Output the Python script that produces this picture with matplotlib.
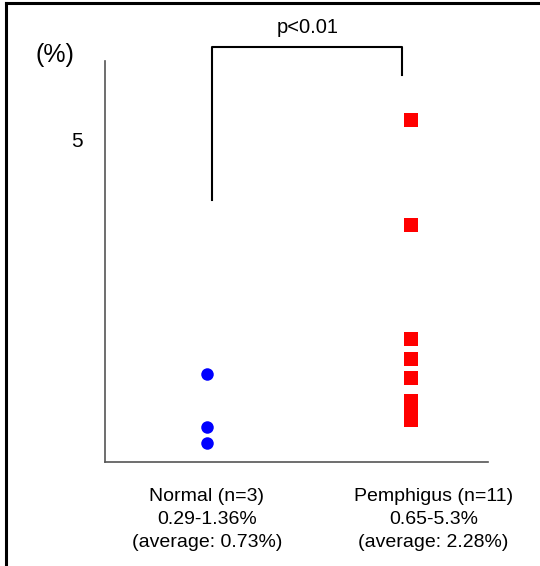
import matplotlib.pyplot as plt
from matplotlib.lines import Line2D

plt.rcParams['font.family'] = ['Liberation Sans', 'DejaVu Sans']

normal_vals = [1.36, 0.54, 0.29]
pemph_vals = [5.3, 3.67, 1.91, 1.6, 1.3, 0.94, 0.88, 0.82, 0.76, 0.7, 0.65]
group_x = [1, 2]
group_labels = ["Normal (n=3)\n0.29-1.36%\n(average: 0.73%)",
                "Pemphigus (n=11)\n0.65-5.3%\n(average: 2.28%)"]

fig = plt.figure(figsize=(5.4, 5.66), dpi=100)
ax = fig.add_axes([0.1944, 0.1837, 0.7093, 0.7085])

ax.plot([group_x[0]] * len(normal_vals), normal_vals, 'o', color='#0000ff',
        markersize=9, markeredgewidth=0)
ax.plot([group_x[1]] * len(pemph_vals), pemph_vals, 's', color='#ff0000',
        markersize=9.4, markeredgewidth=0)

ax.set_xlim(0.5, 2.38)
ax.set_ylim(0, 6.22)

for s in ['top', 'right']:
    ax.spines[s].set_visible(False)
for s in ['left', 'bottom']:
    ax.spines[s].set_color('#555555')
    ax.spines[s].set_linewidth(1.2)

ax.set_xticks([])
ax.set_yticks([5])
ax.set_yticklabels(['5'], fontsize=15)
ax.tick_params(axis='y', length=0, pad=16)

# significance bracket
ax.plot([1.025, 1.025, 1.956, 1.956], [4.06, 6.44, 6.44, 6.0], color='black',
        linewidth=1.5, clip_on=False)
ax.text(1.495, 6.74, "p<0.01", ha='center', va='center', fontsize=14.5)

ax.text(0.255, 6.32, "(%)", ha='center', va='center', fontsize=18, clip_on=False)

ax.text(1.0, -0.41, group_labels[0], ha='center', va='top', fontsize=14,
        linespacing=1.45)
ax.text(2.113, -0.41, group_labels[1], ha='center', va='top', fontsize=14,
        linespacing=1.45)

# frame around the figure (left and top visible)
fig.add_artist(Line2D([0.012, 0.012], [0, 0.994], color='black', linewidth=2.2))
fig.add_artist(Line2D([0.012, 1.0], [0.994, 0.994], color='black', linewidth=2.2))

fig.savefig('out.png', dpi=100)
